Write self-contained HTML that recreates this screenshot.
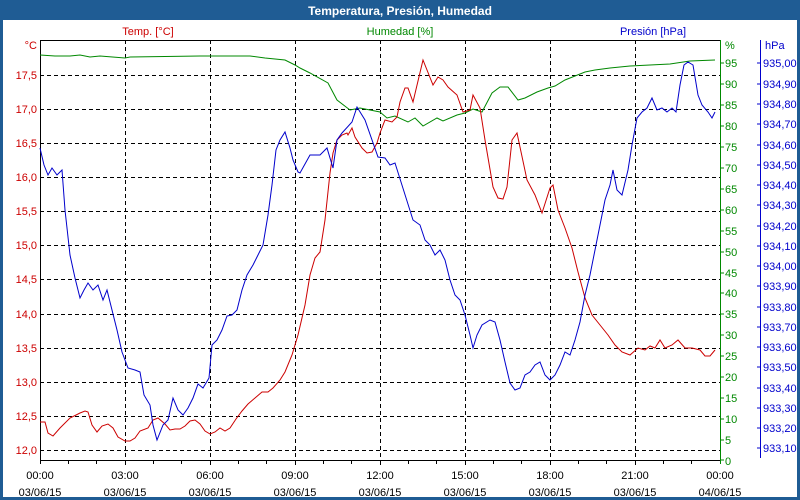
<!DOCTYPE html>
<html><head><meta charset="utf-8"><style>
html,body{margin:0;padding:0;background:#fff}
svg{display:block}
text{font-family:"Liberation Sans","DejaVu Sans",sans-serif;font-size:11px}
</style></head><body>
<svg width="800" height="500" xmlns="http://www.w3.org/2000/svg">
<rect x="0" y="0" width="800" height="500" fill="#1f5c94"/>
<rect x="3" y="20" width="794" height="477" fill="#fff"/>
<text x="400" y="15" text-anchor="middle" fill="#fff" font-weight="bold" style="font-size:12px">Temperatura, Presión, Humedad</text>
<g stroke="#000" stroke-dasharray="4,3" stroke-width="1">
<line x1="125.5" y1="40" x2="125.5" y2="460"/><line x1="210.5" y1="40" x2="210.5" y2="460"/>
<line x1="295.5" y1="40" x2="295.5" y2="460"/><line x1="380.5" y1="40" x2="380.5" y2="460"/>
<line x1="465.5" y1="40" x2="465.5" y2="460"/><line x1="550.5" y1="40" x2="550.5" y2="460"/>
<line x1="635.5" y1="40" x2="635.5" y2="460"/>
<line x1="40" y1="75.5" x2="720" y2="75.5"/><line x1="40" y1="109.5" x2="720" y2="109.5"/>
<line x1="40" y1="143.5" x2="720" y2="143.5"/><line x1="40" y1="177.5" x2="720" y2="177.5"/>
<line x1="40" y1="211.5" x2="720" y2="211.5"/><line x1="40" y1="245.5" x2="720" y2="245.5"/>
<line x1="40" y1="279.5" x2="720" y2="279.5"/><line x1="40" y1="314.5" x2="720" y2="314.5"/>
<line x1="40" y1="348.5" x2="720" y2="348.5"/><line x1="40" y1="382.5" x2="720" y2="382.5"/>
<line x1="40" y1="416.5" x2="720" y2="416.5"/><line x1="40" y1="450.5" x2="720" y2="450.5"/>
</g>
<line x1="40" y1="40.5" x2="721" y2="40.5" stroke="#000"/>
<line x1="40.5" y1="40" x2="40.5" y2="464" stroke="#000"/>
<line x1="40" y1="460.5" x2="721" y2="460.5" stroke="#000"/>
<line x1="720.5" y1="40" x2="720.5" y2="464" stroke="#080"/>
<line x1="760.5" y1="40" x2="760.5" y2="458" stroke="#00c"/>
<g stroke="#000">
<path d="M68.5 460v4M96.5 460v4M125.5 460v5M153.5 460v4M181.5 460v4M210.5 460v5M238.5 460v4M266.5 460v4M295.5 460v5M323.5 460v4M351.5 460v4M380.5 460v5M408.5 460v4M436.5 460v4M465.5 460v5M493.5 460v4M521.5 460v4M550.5 460v5M578.5 460v4M606.5 460v4M635.5 460v5M663.5 460v4M691.5 460v4"/>
</g>
<g fill="#000" text-anchor="middle">
<text x="40" y="479">00:00</text><text x="40" y="496">03/06/15</text>
<text x="125" y="479">03:00</text><text x="125" y="496">03/06/15</text>
<text x="210" y="479">06:00</text><text x="210" y="496">03/06/15</text>
<text x="295" y="479">09:00</text><text x="295" y="496">03/06/15</text>
<text x="380" y="479">12:00</text><text x="380" y="496">03/06/15</text>
<text x="465" y="479">15:00</text><text x="465" y="496">03/06/15</text>
<text x="550" y="479">18:00</text><text x="550" y="496">03/06/15</text>
<text x="635" y="479">21:00</text><text x="635" y="496">03/06/15</text>
<text x="720" y="479">00:00</text><text x="720" y="496">04/06/15</text>
</g>
<g fill="#c00" text-anchor="end">
<text x="37" y="49">°C</text>
<text x="37" y="79">17,5</text><text x="37" y="113">17,0</text><text x="37" y="147">16,5</text>
<text x="37" y="181">16,0</text><text x="37" y="215">15,5</text><text x="37" y="249">15,0</text>
<text x="37" y="283">14,5</text><text x="37" y="318">14,0</text><text x="37" y="352">13,5</text>
<text x="37" y="386">13,0</text><text x="37" y="420">12,5</text><text x="37" y="454">12,0</text>
</g>
<text x="148" y="35" fill="#c00" text-anchor="middle">Temp. [°C]</text>
<text x="400" y="35" fill="#080" text-anchor="middle">Humedad [%]</text>
<text x="653" y="35" fill="#00c" text-anchor="middle">Presión [hPa]</text>
<g fill="#080">
<text x="725" y="49">%</text>
<text x="725" y="67">95</text><text x="725" y="88">90</text><text x="725" y="109">85</text>
<text x="725" y="130">80</text><text x="725" y="151">75</text><text x="725" y="172">70</text>
<text x="725" y="193">65</text><text x="725" y="214">60</text><text x="725" y="235">55</text>
<text x="725" y="256">50</text><text x="725" y="277">45</text><text x="725" y="297">40</text>
<text x="725" y="318">35</text><text x="725" y="339">30</text><text x="725" y="360">25</text>
<text x="725" y="381">20</text><text x="725" y="402">15</text><text x="725" y="423">10</text>
<text x="725" y="444">5</text><text x="725" y="465">0</text>
</g>
<path d="M720 63h4M720 84h4M720 105h4M720 126h4M720 147h4M720 168h4M720 189h4M720 210h4M720 231h4M720 252h4M720 273h4M720 293h4M720 314h4M720 335h4M720 356h4M720 377h4M720 398h4M720 419h4M720 440h4M720 460h4" stroke="#080"/>
<g fill="#00c">
<text x="765" y="49">hPa</text>
<text x="763" y="67">935,00</text><text x="763" y="88">934,90</text><text x="763" y="108">934,80</text>
<text x="763" y="128">934,70</text><text x="763" y="149">934,60</text><text x="763" y="169">934,50</text>
<text x="763" y="189">934,40</text><text x="763" y="209">934,30</text><text x="763" y="230">934,20</text>
<text x="763" y="250">934,10</text><text x="763" y="270">934,00</text><text x="763" y="290">933,90</text>
<text x="763" y="311">933,80</text><text x="763" y="331">933,70</text><text x="763" y="351">933,60</text>
<text x="763" y="371">933,50</text><text x="763" y="392">933,40</text><text x="763" y="412">933,30</text>
<text x="763" y="432">933,20</text><text x="763" y="452">933,10</text>
</g>
<path d="M757 63h4M757 84h4M757 104h4M757 124h4M757 145h4M757 165h4M757 185h4M757 205h4M757 226h4M757 246h4M757 266h4M757 286h4M757 307h4M757 327h4M757 347h4M757 367h4M757 388h4M757 408h4M757 428h4M757 448h4" stroke="#00c"/>
<polyline fill="none" stroke="#080" stroke-width="1" points="40,55 55,56 70,56 80,55 90,57 100,56 125,58 130,57 200,56 250,56 265,58 285,60 295,65 300,68 310,73 328,83 337,100 350,110 360,108 380,112 387,118 395,116 408,122 415,118 423,126 437,118 443,121 457,115 465,113 473,109 482,112 492,93 500,87 508,87 518,100 525,98 537,92 548,88 555,86 565,80 575,76 585,72 595,70 610,68 630,66 650,65 670,64 690,61 715,60"/>
<polyline fill="none" stroke="#c00" stroke-width="1" points="40,422 45,422 48,433 53,436 60,428 70,418 80,413 85,411 88,412 92,425 97,432 102,426 108,424 113,428 118,437 125,441 130,441 135,438 140,431 148,428 153,420 158,418 165,424 170,430 175,429 180,429 185,426 190,421 195,420 200,424 205,431 210,434 215,432 220,428 225,431 230,428 236,419 242,411 248,404 255,398 262,392 268,392 273,388 280,380 285,372 292,355 298,335 305,305 310,275 315,258 320,252 325,220 330,173 333,153 337,140 342,135 347,133 348,135 352,128 355,137 362,148 367,153 372,152 377,143 380,133 385,120 392,122 397,117 400,102 405,88 408,88 413,102 423,60 433,85 438,77 443,80 448,87 457,95 463,112 470,110 473,95 480,108 485,140 493,187 498,198 503,199 507,187 512,140 517,133 527,180 535,195 542,213 550,188 553,185 558,210 565,228 572,248 578,272 585,298 592,315 600,325 608,335 615,345 622,352 630,355 638,348 645,350 650,346 655,348 660,340 665,348 672,345 678,340 685,348 692,348 700,350 705,356 710,356 715,350"/>
<polyline fill="none" stroke="#00c" stroke-width="1" points="40,148 44,165 48,175 52,168 57,175 62,170 65,210 70,255 75,278 80,298 84,290 88,283 93,290 98,285 103,300 107,290 112,310 117,330 122,352 128,368 135,370 140,372 144,395 150,405 153,425 157,440 163,425 168,420 173,398 178,410 183,415 188,408 193,398 198,384 203,388 209,378 212,345 217,340 222,330 227,316 232,315 237,310 242,290 247,275 253,265 258,255 263,245 268,215 272,185 276,150 280,140 285,132 290,148 293,160 298,172 300,173 310,155 320,155 327,148 333,168 337,140 342,133 352,122 357,107 365,120 378,157 385,158 390,165 395,163 413,220 420,225 425,240 430,245 435,255 440,250 445,260 450,280 455,295 460,300 465,315 470,335 473,348 477,335 482,325 490,320 495,322 500,340 505,362 510,383 515,390 520,388 525,375 530,372 535,365 540,362 545,375 550,380 555,375 560,365 565,352 570,355 575,340 580,322 585,295 590,275 595,250 600,225 605,200 610,185 613,170 617,190 622,195 628,170 632,145 637,118 642,112 647,108 652,98 657,110 662,108 667,112 672,108 676,112 680,85 684,65 688,62 693,65 698,95 702,105 708,112 712,118 715,112"/>
</svg>
</body></html>
